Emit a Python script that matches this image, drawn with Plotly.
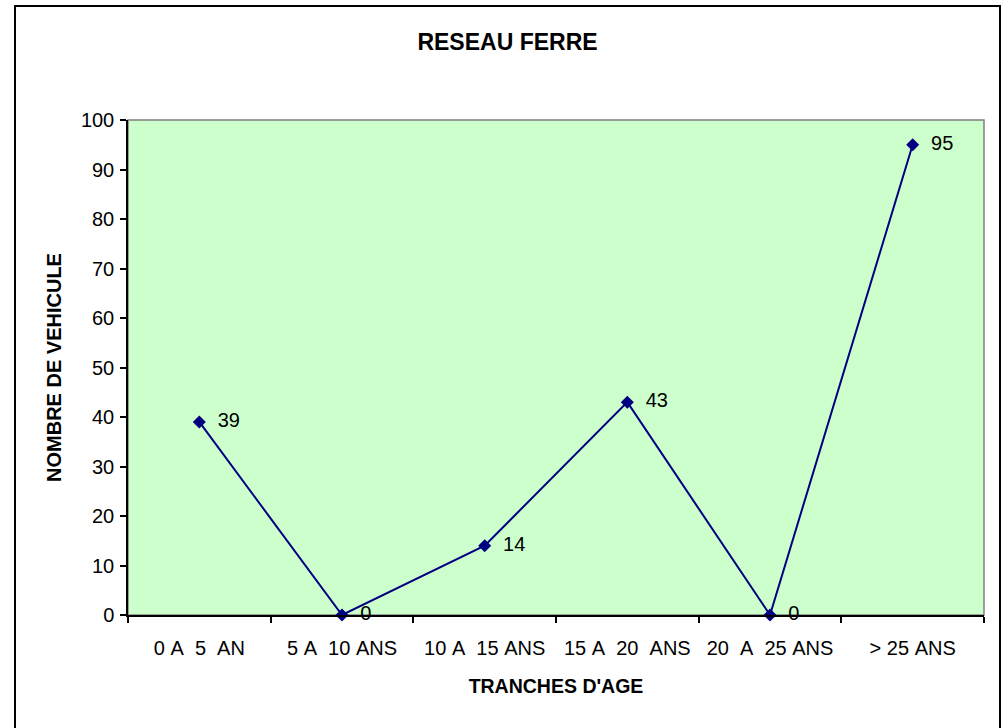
import plotly.graph_objects as go

categories = ["0 A  5  AN", "5 A  10 ANS", "10 A  15 ANS", "15 A  20  ANS", "20  A  25 ANS", "> 25 ANS"]
values = [39, 0, 14, 43, 0, 95]
y_ticks = [0, 10, 20, 30, 40, 50, 60, 70, 80, 90, 100]

title_text = "RESEAU FERRE"
x_title = "TRANCHES D'AGE"
y_title = "NOMBRE DE VEHICULE"

NAVY = "#000080"
FONT = "Liberation Sans, Arial, sans-serif"

cats_disp = [c.replace(" ", "\u00a0") for c in categories]

fig = go.Figure()
fig.add_trace(go.Scatter(
    x=cats_disp, y=values,
    mode="lines+markers+text",
    line=dict(color=NAVY, width=2),
    marker=dict(symbol="diamond", size=10, color=NAVY),
    text=[str(v) for v in values],
    texttemplate="\u00a0\u00a0%{text}",
    textposition="middle right",
    textfont=dict(family=FONT, size=20, color="black"),
    cliponaxis=False,
    showlegend=False,
))

W, H = 1005, 728
L, R, T, B = 128, 984, 120, 615
pw, ph = R - L, B - T

def px(x):
    return (x - L) / pw

def py(y):
    return (B - y) / ph

fig.update_layout(
    width=W, height=H,
    margin=dict(l=L, r=W - R, t=T, b=H - B, autoexpand=False),
    paper_bgcolor="white",
    plot_bgcolor="#CCFFCC",
    font=dict(family=FONT, color="black"),
    title=dict(text="<b>" + title_text + "</b>", x=507.5 / W, xref="container", xanchor="center",
               y=1 - 42 / H, yref="container", yanchor="middle",
               font=dict(family=FONT, size=23, color="black")),
    xaxis=dict(
        type="category", tickson="boundaries", ticks="outside", ticklen=6, tickcolor="black", tickwidth=1.5,
        showline=True, linecolor="black", linewidth=1.5, showgrid=False, zeroline=False,
        tickfont=dict(family=FONT, size=20, color="black"), ticklabelstandoff=14,
        range=[-0.5, 5.5], automargin=False,
        title=dict(text="<b>" + x_title + "</b>", font=dict(family=FONT, size=19.5, color="black"), standoff=22),
    ),
    yaxis=dict(
        range=[0, 100], tickvals=y_ticks, ticks="outside", ticklen=6, tickcolor="black", tickwidth=1.5,
        showline=True, linecolor="black", linewidth=1.5, showgrid=False, zeroline=False,
        tickfont=dict(family=FONT, size=20, color="black"), ticklabelstandoff=2, automargin=False,
        title=dict(text="<b>" + y_title + "</b>", font=dict(family=FONT, size=20, color="black"), standoff=14),
    ),
    shapes=[
        dict(type="rect", xref="paper", yref="paper", x0=0, x1=1, y0=0, y1=1,
             line=dict(color="#808080", width=1.5), layer="below"),
        dict(type="rect", xref="paper", yref="paper", x0=px(15), x1=px(1000), y0=py(735), y1=py(6),
             line=dict(color="black", width=2), layer="above"),
    ],
)

fig.write_html("out.html", config={"displayModeBar": False},
               post_script="document.body.style.margin='0';document.body.style.overflow='hidden';")
